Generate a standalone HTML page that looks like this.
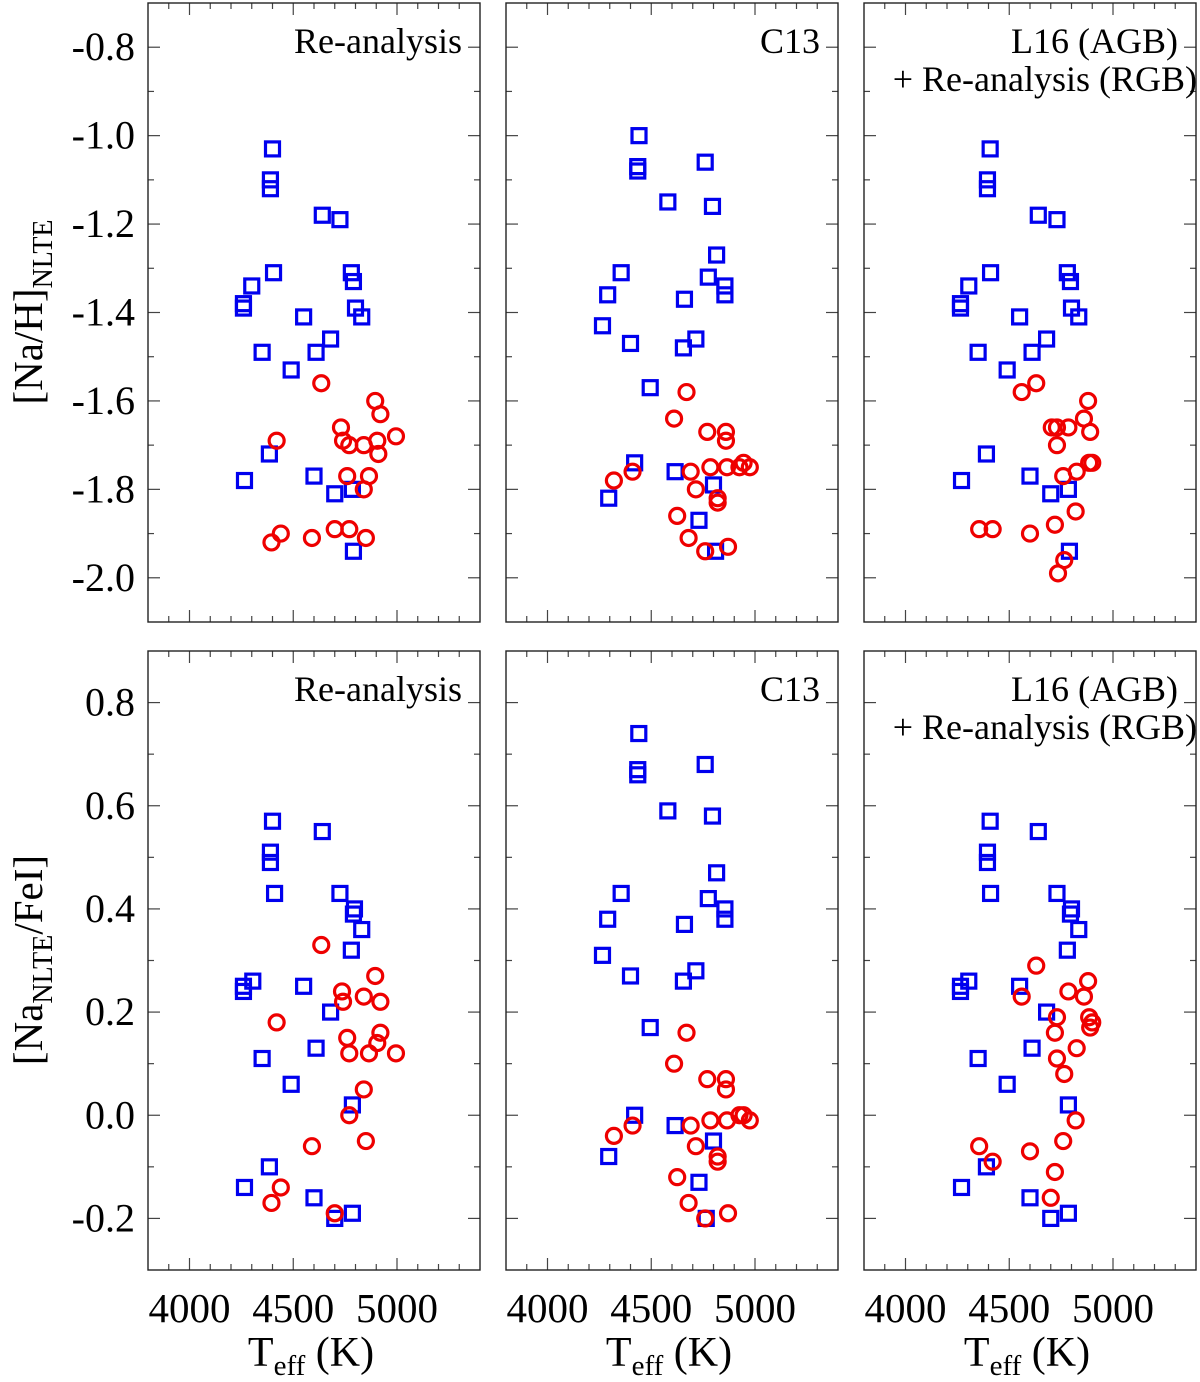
<!DOCTYPE html>
<html><head><meta charset="utf-8">
<style>
html,body{margin:0;padding:0;background:#fff;}
svg{display:block;font-family:"Liberation Serif",serif;}
</style></head>
<body>
<svg id="fig" width="1200" height="1382" viewBox="0 0 1200 1382" xmlns="http://www.w3.org/2000/svg" font-family="Liberation Serif, serif"></svg>
<script>
// ---- data: [Na/H]NLTE (top row) ----
const p1TopBlueT=[4400,4390,4390,4640,4725,4405,4300,4260,4260,4550,4780,4790,4800,4830,4680,4610,4350,4490,4385,4265,4600,4700,4785,4790];
const p1TopBlueV=[-1.03,-1.10,-1.12,-1.18,-1.19,-1.31,-1.34,-1.38,-1.39,-1.41,-1.31,-1.33,-1.39,-1.41,-1.46,-1.49,-1.49,-1.53,-1.72,-1.78,-1.77,-1.81,-1.80,-1.94];
const p1TopRedT=[4635,4895,4920,4730,4740,4770,4840,4905,4995,4910,4420,4760,4865,4840,4440,4395,4590,4700,4770,4850];
const p1TopRedV=[-1.56,-1.60,-1.63,-1.66,-1.69,-1.70,-1.70,-1.69,-1.68,-1.72,-1.69,-1.77,-1.77,-1.80,-1.90,-1.92,-1.91,-1.89,-1.89,-1.91];
const p2TopBlueT=[4441,4435,4435,4760,4580,4795,4815,4355,4290,4265,4400,4775,4855,4855,4660,4715,4655,4495,4420,4615,4295,4800,4730,4810];
const p2TopBlueV=[-1.00,-1.07,-1.08,-1.06,-1.15,-1.16,-1.27,-1.31,-1.36,-1.43,-1.47,-1.32,-1.34,-1.36,-1.37,-1.46,-1.48,-1.57,-1.74,-1.76,-1.82,-1.79,-1.87,-1.94];
const p2TopRedT=[4670,4610,4770,4860,4860,4785,4865,4925,4975,4945,4320,4410,4690,4715,4820,4820,4625,4680,4760,4870];
const p2TopRedV=[-1.58,-1.64,-1.67,-1.67,-1.69,-1.75,-1.75,-1.75,-1.75,-1.74,-1.78,-1.76,-1.76,-1.80,-1.82,-1.83,-1.86,-1.91,-1.94,-1.93];
const p3TopBlueT=[4408,4395,4395,4640,4730,4410,4305,4265,4265,4550,4780,4795,4800,4835,4680,4610,4350,4490,4390,4270,4600,4700,4785,4790];
const p3TopBlueV=[-1.03,-1.10,-1.12,-1.18,-1.19,-1.31,-1.34,-1.38,-1.39,-1.41,-1.31,-1.33,-1.39,-1.41,-1.46,-1.49,-1.49,-1.53,-1.72,-1.78,-1.77,-1.81,-1.80,-1.94];
const p3TopRedT=[4630,4560,4880,4860,4730,4705,4785,4890,4730,4760,4825,4885,4900,4820,4720,4600,4355,4420,4765,4735];
const p3TopRedV=[-1.56,-1.58,-1.60,-1.64,-1.66,-1.66,-1.66,-1.67,-1.70,-1.77,-1.76,-1.74,-1.74,-1.85,-1.88,-1.90,-1.89,-1.89,-1.96,-1.99];
// ---- data: [NaNLTE/FeI] (bottom row) ----
const p1BotBlueT=[4400,4390,4390,4640,4410,4725,4795,4790,4830,4780,4305,4260,4260,4550,4680,4610,4350,4490,4785,4385,4265,4600,4700,4785];
const p1BotBlueV=[0.57,0.51,0.49,0.55,0.43,0.43,0.40,0.39,0.36,0.32,0.26,0.25,0.24,0.25,0.20,0.13,0.11,0.06,0.02,-0.10,-0.14,-0.16,-0.20,-0.19];
const p1BotRedT=[4635,4895,4735,4740,4840,4920,4420,4920,4760,4905,4770,4865,4995,4770,4840,4850,4590,4440,4395,4700];
const p1BotRedV=[0.33,0.27,0.24,0.22,0.23,0.22,0.18,0.16,0.15,0.14,0.12,0.12,0.12,0.00,0.05,-0.05,-0.06,-0.14,-0.17,-0.19];
const p2BotBlueT=[4440,4435,4435,4760,4580,4795,4815,4355,4290,4855,4855,4775,4265,4400,4660,4715,4655,4495,4420,4615,4800,4295,4730,4765];
const p2BotBlueV=[0.74,0.67,0.66,0.68,0.59,0.58,0.47,0.43,0.38,0.40,0.38,0.42,0.31,0.27,0.37,0.28,0.26,0.17,0.00,-0.02,-0.05,-0.08,-0.13,-0.20];
const p2BotRedT=[4670,4610,4770,4860,4860,4925,4975,4945,4785,4865,4320,4410,4690,4715,4820,4820,4625,4680,4760,4870];
const p2BotRedV=[0.16,0.10,0.07,0.07,0.05,0.00,-0.01,0.00,-0.01,-0.01,-0.04,-0.02,-0.02,-0.06,-0.08,-0.09,-0.12,-0.17,-0.20,-0.19];
const p3BotBlueT=[4408,4395,4395,4640,4410,4730,4800,4795,4835,4780,4305,4265,4265,4550,4680,4610,4350,4490,4785,4390,4270,4600,4700,4785];
const p3BotBlueV=[0.57,0.51,0.49,0.55,0.43,0.43,0.40,0.39,0.36,0.32,0.26,0.25,0.24,0.25,0.20,0.13,0.11,0.06,0.02,-0.10,-0.14,-0.16,-0.20,-0.19];
const p3BotRedT=[4630,4560,4880,4860,4785,4730,4885,4900,4890,4720,4825,4730,4765,4820,4760,4600,4355,4420,4720,4700];
const p3BotRedV=[0.29,0.23,0.26,0.23,0.24,0.19,0.19,0.18,0.17,0.16,0.13,0.11,0.08,-0.01,-0.05,-0.07,-0.06,-0.09,-0.11,-0.16];
// ticks
const xTickLabels=[4000,4500,5000];
const yTopTickLabels=[-0.8,-1.0,-1.2,-1.4,-1.6,-1.8,-2.0];
const yBotTickLabels=[0.8,0.6,0.4,0.2,0.0,-0.2];

const NS="http://www.w3.org/2000/svg";
const svg=document.getElementById('fig');
function mk(tag,attrs,parent){const e=document.createElementNS(NS,tag);for(const k in attrs)e.setAttribute(k,attrs[k]);(parent||svg).appendChild(e);return e;}

const colX=[148,506,864], W=332;
const rows=[{y0:3,y1:622,vmin:-2.1,vmax:-0.7,labels:yTopTickLabels,name:'top'},
            {y0:651,y1:1270,vmin:-0.3,vmax:0.9,labels:yBotTickLabels,name:'bottom'}];
const xmin=3800,xmax=5400;
const notes=[["Re-analysis"],["C13"],["L16 (AGB)","+ Re-analysis (RGB)"]];
const sets=[[[p1TopBlueT,p1TopBlueV,p1TopRedT,p1TopRedV],[p2TopBlueT,p2TopBlueV,p2TopRedT,p2TopRedV],[p3TopBlueT,p3TopBlueV,p3TopRedT,p3TopRedV]],
            [[p1BotBlueT,p1BotBlueV,p1BotRedT,p1BotRedV],[p2BotBlueT,p2BotBlueV,p2BotRedT,p2BotRedV],[p3BotBlueT,p3BotBlueV,p3BotRedT,p3BotRedV]]];

rows.forEach((r,ri)=>{
  colX.forEach((x0,ci)=>{
    const g=mk('g',{});
    
    
    const sx=t=>x0+(t-xmin)/(xmax-xmin)*W;
    const sy=v=>r.y1-(v-r.vmin)/(r.vmax-r.vmin)*(r.y1-r.y0);
    const tk=mk('g',{stroke:'#444','stroke-width':1.2},g);
    
    
    for(let t=xmin+100;t<xmax;t+=100){
      const L=(t%500===0)?12:6, X=sx(t);
      mk('line',{x1:X,y1:r.y1,x2:X,y2:r.y1-L},tk);
      mk('line',{x1:X,y1:r.y0,x2:X,y2:r.y0+L},tk);
    }
    const n=Math.round((r.vmax-r.vmin)/0.1);
    for(let i=1;i<n;i++){
      const v=r.vmin+i*0.1, Y=sy(v);
      const major=Math.abs(Math.round(v*10))%2===0;
      const L=major?12:6;
      mk('line',{x1:x0,y1:Y,x2:x0+L,y2:Y},tk);
      mk('line',{x1:x0+W,y1:Y,x2:x0+W-L,y2:Y},tk);
    }
    const fr=mk('rect',{x:x0,y:r.y0,width:W,height:r.y1-r.y0,fill:'none',stroke:'#222','stroke-width':1.4},g);
    
    
    const d=sets[ri][ci];
    d[0].forEach((t,i)=>{
      const s=mk('rect',{x:sx(t)-7,y:sy(d[1][i])-7,width:14,height:14,fill:'none',stroke:'#0000ee','stroke-width':3.2},g);
      
      
    });
    d[2].forEach((t,i)=>{
      const c=mk('circle',{cx:sx(t),cy:sy(d[3][i]),r:7.5,fill:'none',stroke:'#ee0000','stroke-width':3.2},g);
      
      
    });
    notes[ci].forEach((s,k)=>{
      const tx=mk('text',{x:(ci===2&&k===1)?x0+W+1:x0+W-18,y:r.y0+50+k*38,'text-anchor':'end','font-size':36,fill:'#000'},g);
      tx.textContent=s;
      
      
    });
    if(ci===0){
      r.labels.forEach(v=>{
        const tx=mk('text',{x:135,y:sy(v)+13,'text-anchor':'end','font-size':40,fill:'#000'},g);
        tx.textContent=v.toFixed(1);
        
        
      });
    }
    if(ri===1){
      xTickLabels.forEach(t=>{
        const tx=mk('text',{x:sx(t),y:1322,'text-anchor':'middle','font-size':41,fill:'#000'},g);
        tx.textContent=t;
        
        
      });
      const xt=mk('text',{x:x0+W/2-3,y:1366,'text-anchor':'middle','font-size':42,fill:'#000'},g);
      xt.innerHTML='T<tspan font-size="29" dy="9">eff</tspan><tspan dy="-9"> (K)</tspan>';
      
      
    }
  });
});
const yt1=mk('text',{transform:'translate(42,312) rotate(-90)','text-anchor':'middle','font-size':41,fill:'#000'});
yt1.innerHTML='[Na/H]<tspan font-size="28" dy="10">NLTE</tspan>';


const yt2=mk('text',{transform:'translate(42,960) rotate(-90)','text-anchor':'middle','font-size':41,fill:'#000'});
yt2.innerHTML='[Na<tspan font-size="28" dy="10">NLTE</tspan><tspan dy="-10">/FeI]</tspan>';


</script>
</body></html>
